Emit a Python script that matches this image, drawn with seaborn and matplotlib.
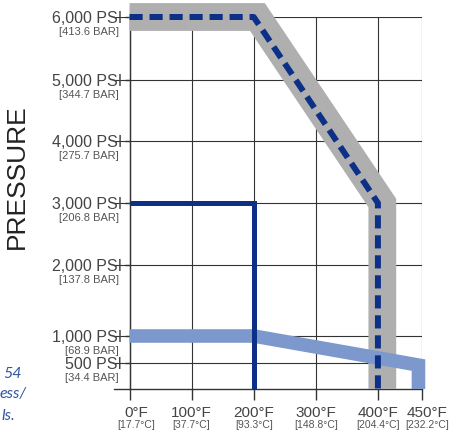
import numpy as np
import pandas as pd
import matplotlib
matplotlib.use("Agg")
import matplotlib.pyplot as plt
import matplotlib.transforms as mtransforms
from matplotlib.ticker import NullLocator
import seaborn as sns

# ---------------- data ----------------
temp_ticks_f = [0, 100, 200, 300, 400, 450]
temp_labels_f = ["0°F", "100°F", "200°F", "300°F", "400°F", "450°F"]
temp_labels_c = ["[17.7°C]", "[37.7°C]", "[93.3°C]", "[148.8°C]", "[204.4°C]", "[232.2°C]"]

psi_ticks = [500, 1000, 2000, 3000, 4000, 5000, 6000]
psi_labels = ["500 PSI", "1,000 PSI", "2,000 PSI", "3,000 PSI",
              "4,000 PSI", "5,000 PSI", "6,000 PSI"]
bar_labels = ["[34.4 BAR]", "[68.9 BAR]", "[137.8 BAR]", "[206.8 BAR]",
              "[275.7 BAR]", "[344.7 BAR]", "[413.6 BAR]"]

gray_temp = [0, 206, 405, 405]
gray_psi = [6000, 6000, 3000, 0]
dashed_temp = [0, 200, 400, 400]
dashed_psi = [6000, 6000, 3000, 0]
solid_temp = [0, 200, 200]
solid_psi = [3000, 3000, 0]
light_temp = [0, 200, 446, 446]
light_psi = [1000, 1000, 460, 0]

side_texts = ["54", "ess/", "ls."]

# ---------------- style ----------------
sns.set_style("ticks")
plt.rcParams["font.family"] = ["Liberation Sans", "DejaVu Sans"]

GRAY = "#afafaf"
DARK = "#0c2f87"
LIGHT = "#7d98cd"
GRID = "#333333"

# non-uniform axis scales of the original drawing
X_KNOTS = [-1000, 0, 400, 1000]
X_POS = [-10.0, 0.0, 4.0, 4.0 + 600 * 0.71 / 50]
Y_KNOTS = [-1000, 0, 500, 1000, 2000, 3000, 4000, 5000, 6000, 10000]
Y_POS = [-52, 0, 26, 53, 124, 186, 248, 309, 372, 620]


def xf(v):
    return np.interp(v, X_KNOTS, X_POS)


def xi(v):
    return np.interp(v, X_POS, X_KNOTS)


def yf(v):
    return np.interp(v, Y_KNOTS, Y_POS)


def yi(v):
    return np.interp(v, Y_POS, Y_KNOTS)


fig = plt.figure(figsize=(4.54, 4.41), dpi=100)
ax = fig.add_axes([114 / 454, 52 / 441, 308 / 454, 372 / 441])
ax.set_xscale("function", functions=(xf, xi))
ax.set_yscale("function", functions=(yf, yi))


def draw(temps, psis, **kw):
    df = pd.DataFrame({"temp": temps, "psi": psis})
    sns.lineplot(data=df, x="temp", y="psi", sort=False, estimator=None,
                 ax=ax, clip_on=False, legend=False, **kw)
    return ax.lines[-1]


draw(gray_temp, gray_psi, color=GRAY, linewidth=20, zorder=3,
     solid_capstyle="butt", solid_joinstyle="miter")
draw(light_temp, light_psi, color=LIGHT, linewidth=9.8, zorder=4,
     solid_capstyle="butt", solid_joinstyle="miter")
draw(solid_temp, solid_psi, color=DARK, linewidth=3.6, zorder=5,
     solid_capstyle="butt", solid_joinstyle="miter")
dl = draw(dashed_temp, dashed_psi, color=DARK, linewidth=4.3, zorder=6)
dl.set_dashes([2.2, 1.15])
dl.set_dash_capstyle("butt")

ax.set_xlim(-25, 450)
ax.set_ylim(0, 6000)
ax.set_xlabel("")

ax.set_xticks(temp_ticks_f, temp_labels_f)
ax.set_yticks(psi_ticks, psi_labels)
ax.xaxis.set_minor_locator(NullLocator())
ax.yaxis.set_minor_locator(NullLocator())

ax.tick_params(axis="x", length=8, width=1, color=GRID, pad=4.5,
               labelsize=11, labelcolor="#444444")
ax.tick_params(axis="y", length=3.6, width=1, color=GRID, pad=1.5,
               labelsize=11.5, labelcolor="#444444")

ax.grid(True, color=GRID, linewidth=0.8)
ax.set_axisbelow(True)

for s in ["top", "right"]:
    ax.spines[s].set_visible(False)
ax.spines["left"].set_position(("data", 0))
for s in ["left", "bottom"]:
    ax.spines[s].set_color(GRID)
    ax.spines[s].set_linewidth(1)

# small nudges of the x labels (pixels)
x_label_nudge = [7, 0, 0, 0, 0, 5]
for lab, dx in zip(ax.get_xticklabels(), x_label_nudge):
    lab.set_transform(lab.get_transform() +
                      mtransforms.ScaledTranslation(dx / 100, 0, fig.dpi_scale_trans))

for t, lab, dx in zip(temp_ticks_f, temp_labels_c, x_label_nudge):
    ax.annotate(lab, xy=(t, 0), xycoords="data",
                xytext=(dx / 1.389, -26), textcoords="offset points",
                ha="center", va="center", fontsize=7.5, color="#555555",
                annotation_clip=False)

for p, lab in zip(psi_ticks, bar_labels):
    ax.annotate(lab, xy=(0, p), xycoords="data",
                xytext=(-7.9, -11), textcoords="offset points",
                ha="right", va="center", fontsize=8, color="#555555",
                annotation_clip=False)

ax.set_ylabel("PRESSURE", fontsize=19, color="#222222", va="center")
ax.yaxis.set_label_coords(-0.315, 0.57)

# cut-off italic text from neighbouring column
side_pos = [(22, 378), (27, 398), (15, 420)]
for txt, (px, py) in zip(side_texts, side_pos):
    fig.text(px / 454, 1 - py / 441, txt, ha="right", va="baseline",
             fontsize=11.5, color="#3355a0", style="italic",
             family=["Lato", "DejaVu Sans"])

fig.savefig("out.png", dpi=100)
